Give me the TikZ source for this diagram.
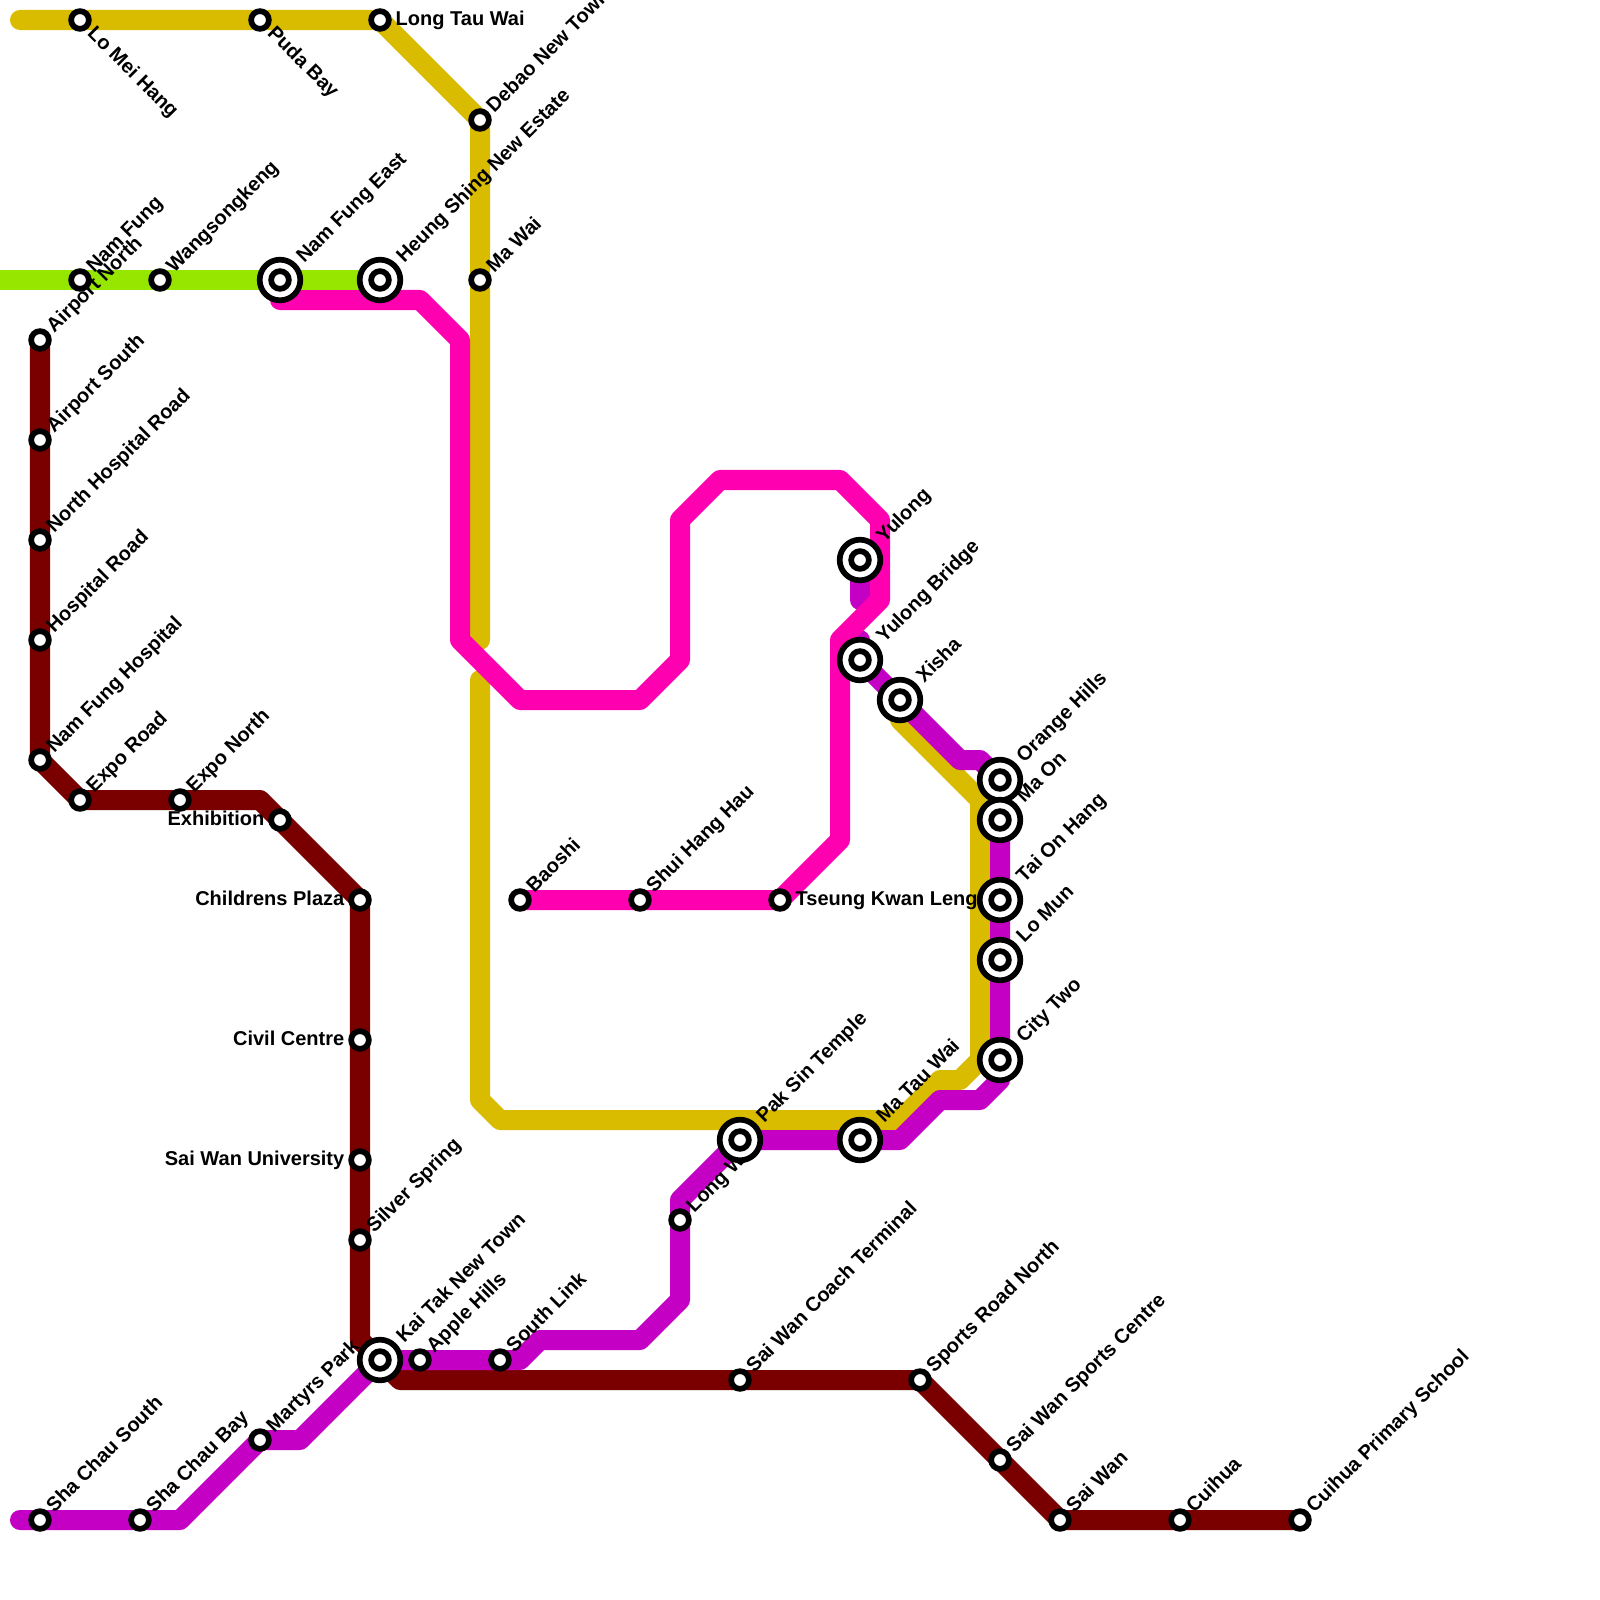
\documentclass[tikz,border=0pt]{standalone}
\usepackage{fontspec}
\setmainfont{Liberation Sans}
\definecolor{lineyellow}{HTML}{D9BB00}
\definecolor{linepurple}{HTML}{C400C4}
\definecolor{linepink}{HTML}{FF00B0}
\definecolor{linered}{HTML}{7A0000}
\definecolor{linegreen}{HTML}{96E600}
\tikzset{
  metro/.style={line width=2mm,line cap=round,line join=round},
  smallstop/.style={circle,draw=black,fill=white,line width=0.57mm,minimum size=1.77mm,inner sep=0pt,outer sep=0pt},
  bigstop/.style={circle,draw=black,fill=white,line width=0.57mm,minimum size=4.06mm,inner sep=0pt,outer sep=0pt},
  lab/.style={font=\fontsize{5.69}{7}\selectfont\bfseries,inner sep=0pt,text=black,text height=1.3mm,text depth=0.2mm},
  labne/.style={lab,anchor=west,rotate=45},
  labse/.style={lab,anchor=west,rotate=-45},
  labe/.style={lab,anchor=west},
  labw/.style={lab,anchor=east}
}
\begin{document}
\begin{tikzpicture}[x=0.01cm,y=-0.01cm]
\useasboundingbox (0,0) rectangle (1600,1600);
\fill[white] (0,0) rectangle (1600,1600);
% station positions
\foreach \n/\x/\y in {LoMei/80/20,Puda/260/20,LongTau/380/20,Debao/480/120,MaWai/480/280,Heung/380/280,NamFungE/280/280,
  Wang/160/280,NamFung/80/280,AirN/40/340,AirS/40/440,NHosp/40/540,Hosp/40/640,NFHosp/40/760,ExpoR/80/800,ExpoN/180/800,
  Exhib/280/820,Child/360/900,Civil/360/1040,SaiU/360/1160,Silver/360/1240,KaiTak/380/1360,Apple/420/1360,South/500/1360,
  Martyrs/260/1440,ShaBay/140/1520,ShaS/40/1520,Coach/740/1380,Sports/920/1380,SportsC/1000/1460,SaiWan/1060/1520,
  Cuihua/1180/1520,CuiP/1300/1520,LongW/680/1220,Yulong/860/560,YuBr/860/660,Xisha/900/700,Orange/1000/780,MaOn/1000/820,
  TaiOn/1000/900,LoMun/1000/960,CityTwo/1000/1060,PakSin/740/1140,MaTau/860/1140,Baoshi/520/900,ShuiH/640/900,Tseung/780/900}
  {\coordinate (\n) at (\x,\y);}
% bend and end points
\coordinate (yA) at (20,20);
\coordinate (yB) at (480,640);
\coordinate (yC) at (480,680);
\coordinate (yD) at (900,720);
\coordinate (gA) at (0,280);
\coordinate (pA) at (280,300);
\coordinate (uA) at (20,1520);
\coordinate (uB) at (860,600);
\coordinate (uC) at (860,640);
\coordinate (rA) at (360,1340);
% lines
\draw[metro,linered] (AirN) -- (NFHosp) -- (ExpoR) -- (260,800) -- (Child) -- (rA) -- (400,1380) -- (Sports) -- (SaiWan) -- (CuiP);
\draw[metro,lineyellow] (yA) -- (LongTau) -- (Debao) -- (yB);
\draw[metro,lineyellow] (yC) -- (480,1100) -- (500,1120) -- (900,1120) -- (940,1080) -- (960,1080) -- (980,1060) -- (980,800) -- (yD);
\draw[metro,linepurple] (uA) -- (180,1520) -- (Martyrs) -- (300,1440) -- (KaiTak) -- (520,1360) -- (540,1340) -- (640,1340) -- (680,1300) -- (680,1200) -- (PakSin) -- (900,1140) -- (940,1100) -- (980,1100) -- (1000,1080) -- (Orange) -- (980,760) -- (960,760) -- (Xisha) -- (YuBr) -- (uC);
\draw[metro,linepurple] (Yulong) -- (uB);
\draw[metro,linepink] (pA) -- (420,300) -- (460,340) -- (460,640) -- (520,700) -- (640,700) -- (680,660) -- (680,520) -- (720,480) -- (840,480) -- (880,520) -- (880,600) -- (840,640) -- (840,840) -- (Tseung) -- (Baoshi);
\draw[metro,linegreen,line cap=butt] (gA) -- (Heung);
% labels
\foreach \n/\t in {Debao/Debao New Town,MaWai/Ma Wai,Wang/Wangsongkeng,NamFung/Nam Fung,AirN/Airport North,AirS/Airport South,
  NHosp/North Hospital Road,Hosp/Hospital Road,NFHosp/Nam Fung Hospital,ExpoR/Expo Road,ExpoN/Expo North,Silver/Silver Spring,
  Apple/Apple Hills,South/South Link,Martyrs/Martyrs Park,ShaBay/Sha Chau Bay,ShaS/Sha Chau South,Coach/Sai Wan Coach Terminal,
  Sports/Sports Road North,SportsC/Sai Wan Sports Centre,SaiWan/Sai Wan,Cuihua/Cuihua,CuiP/Cuihua Primary School,LongW/Long W,
  Baoshi/Baoshi,ShuiH/Shui Hang Hau}
  {\node[labne] (\n-lab) at ([shift={(10,-10)}]\n) {\t};}
\foreach \n/\t in {Heung/Heung Shing New Estate,NamFungE/Nam Fung East,KaiTak/Kai Tak New Town,Yulong/Yulong,YuBr/Yulong Bridge,
  Xisha/Xisha,Orange/Orange Hills,MaOn/Ma On,TaiOn/Tai On Hang,LoMun/Lo Mun,CityTwo/City Two,PakSin/Pak Sin Temple,MaTau/Ma Tau Wai}
  {\node[labne] (\n-lab) at ([shift={(20,-20)}]\n) {\t};}
\foreach \n/\t in {LoMei/Lo Mei Hang,Puda/Puda Bay}
  {\node[labse] (\n-lab) at ([shift={(10,10)}]\n) {\t};}
\foreach \n/\t in {LongTau/Long Tau Wai,Tseung/Tseung Kwan Leng}
  {\node[labe] (\n-lab) at ([shift={(15,0)}]\n) {\t};}
\foreach \n/\t in {Exhib/Exhibition,Child/Childrens Plaza,Civil/Civil Centre,SaiU/Sai Wan University}
  {\node[labw] (\n-lab) at ([shift={(-15,0)}]\n) {\t};}
% stations
\foreach \n in {Heung,NamFungE,KaiTak,Yulong,YuBr,Xisha,Orange,MaOn,TaiOn,LoMun,CityTwo,PakSin,MaTau}
  {\node[bigstop] (\n-ring) at (\n) {};}
\foreach \n in {LoMei,Puda,LongTau,Debao,MaWai,Heung,NamFungE,Wang,NamFung,AirN,AirS,NHosp,Hosp,NFHosp,ExpoR,ExpoN,Exhib,Child,Civil,SaiU,Silver,KaiTak,Apple,South,Martyrs,ShaBay,ShaS,Coach,Sports,SportsC,SaiWan,Cuihua,CuiP,LongW,Yulong,YuBr,Xisha,Orange,MaOn,TaiOn,LoMun,CityTwo,PakSin,MaTau,Baoshi,ShuiH,Tseung}
  {\node[smallstop] (\n-stop) at (\n) {};}
\end{tikzpicture}
\end{document}
